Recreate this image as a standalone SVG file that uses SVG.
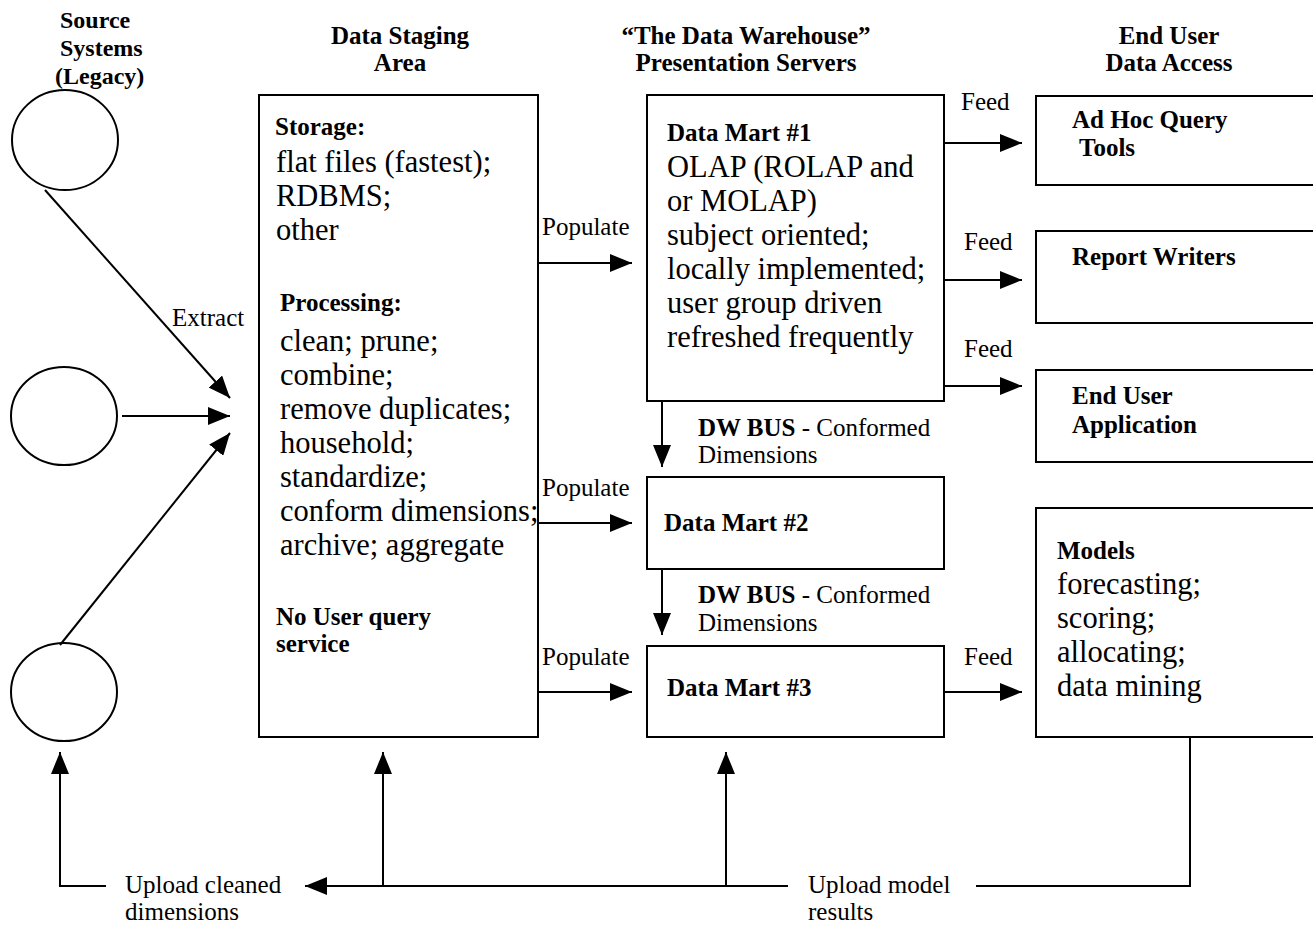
<svg xmlns="http://www.w3.org/2000/svg" width="1313" height="925" viewBox="0 0 1313 925">
<style>
text{font-family:"Liberation Serif","Times New Roman",serif;fill:#000}
.h{font-weight:bold;font-size:25px}
.hs{font-weight:bold;font-size:24px}
.b{font-weight:bold;font-size:25px}
.l{font-size:30.5px}
.s{font-size:25px}
.box{fill:#fff;stroke:#000;stroke-width:2}
.c{fill:#fff;stroke:#000;stroke-width:2}
.ln{fill:none;stroke:#000;stroke-width:2}
</style>
<defs>
<marker id="ah" markerWidth="22" markerHeight="18" refX="22" refY="9" orient="auto" markerUnits="userSpaceOnUse"><path d="M0,0 L22,9 L0,18 z" fill="#000"/></marker>
</defs>
<rect width="1313" height="925" fill="#fff"/>
<g id="headers">
<text class="hs" x="60" y="28">Source</text>
<text class="hs" x="60" y="56">Systems</text>
<text class="hs" x="55" y="84">(Legacy)</text>
<text class="h" x="400" y="44" text-anchor="middle">Data Staging</text>
<text class="h" x="400" y="71" text-anchor="middle">Area</text>
<text class="h" x="746" y="44" text-anchor="middle">“The Data Warehouse”</text>
<text class="h" x="746" y="71" text-anchor="middle">Presentation Servers</text>
<text class="h" x="1169" y="44" text-anchor="middle">End User</text>
<text class="h" x="1169" y="71" text-anchor="middle">Data Access</text>
</g>
<g id="src1"><ellipse class="c" cx="65" cy="140" rx="53" ry="50"/></g>
<g id="src2"><ellipse class="c" cx="64" cy="416" rx="53" ry="49"/></g>
<g id="src3"><ellipse class="c" cx="64" cy="692" rx="53" ry="49"/></g>
<g id="staging">
<rect class="box" x="259" y="95" width="279" height="642"/>
<text class="b" x="275" y="135">Storage:</text>
<text class="l" x="276" y="172">flat files (fastest);</text>
<text class="l" x="276" y="206">RDBMS;</text>
<text class="l" x="276" y="240">other</text>
<text class="b" x="280" y="311">Processing:</text>
<text class="l" x="280" y="351">clean; prune;</text>
<text class="l" x="280" y="385">combine;</text>
<text class="l" x="280" y="419">remove duplicates;</text>
<text class="l" x="280" y="453">household;</text>
<text class="l" x="280" y="487">standardize;</text>
<text class="l" x="280" y="521">conform dimensions;</text>
<text class="l" x="280" y="555">archive; aggregate</text>
<text class="b" x="276" y="625">No User query</text>
<text class="b" x="276" y="652">service</text>
</g>
<g id="dm1">
<rect class="box" x="647" y="95" width="297" height="306"/>
<text class="b" x="667" y="141">Data Mart #1</text>
<text class="l" x="667" y="177">OLAP (ROLAP and</text>
<text class="l" x="667" y="211">or MOLAP)</text>
<text class="l" x="667" y="245">subject oriented;</text>
<text class="l" x="667" y="279">locally implemented;</text>
<text class="l" x="667" y="313">user group driven</text>
<text class="l" x="667" y="347">refreshed frequently</text>
</g>
<g id="dm2">
<rect class="box" x="647" y="477" width="297" height="92"/>
<text class="b" x="664" y="531">Data Mart #2</text>
</g>
<g id="dm3">
<rect class="box" x="647" y="646" width="297" height="91"/>
<text class="b" x="667" y="696">Data Mart #3</text>
</g>
<g id="adhoc">
<rect class="box" x="1036" y="96" width="300" height="89"/>
<text class="b" x="1072" y="128">Ad Hoc Query</text>
<text class="b" x="1079" y="156">Tools</text>
</g>
<g id="report">
<rect class="box" x="1036" y="231" width="300" height="92"/>
<text class="b" x="1072" y="265">Report Writers</text>
</g>
<g id="enduserapp">
<rect class="box" x="1036" y="370" width="300" height="92"/>
<text class="b" x="1072" y="404">End User</text>
<text class="b" x="1072" y="433">Application</text>
</g>
<g id="models">
<rect class="box" x="1036" y="508" width="300" height="229"/>
<text class="b" x="1057" y="559">Models</text>
<text class="l" x="1057" y="594">forecasting;</text>
<text class="l" x="1057" y="628">scoring;</text>
<text class="l" x="1057" y="662">allocating;</text>
<text class="l" x="1057" y="696">data mining</text>
</g>
<g id="connectors">
<line class="ln" x1="45" y1="190" x2="230" y2="398" marker-end="url(#ah)"/>
<line class="ln" x1="122" y1="416" x2="230" y2="416" marker-end="url(#ah)"/>
<line class="ln" x1="60" y1="645" x2="230" y2="433" marker-end="url(#ah)"/>
<line class="ln" x1="538" y1="263" x2="632" y2="263" marker-end="url(#ah)"/>
<line class="ln" x1="538" y1="523" x2="632" y2="523" marker-end="url(#ah)"/>
<line class="ln" x1="538" y1="692" x2="632" y2="692" marker-end="url(#ah)"/>
<line class="ln" x1="944" y1="143" x2="1022" y2="143" marker-end="url(#ah)"/>
<line class="ln" x1="944" y1="280" x2="1022" y2="280" marker-end="url(#ah)"/>
<line class="ln" x1="944" y1="386" x2="1022" y2="386" marker-end="url(#ah)"/>
<line class="ln" x1="944" y1="692" x2="1022" y2="692" marker-end="url(#ah)"/>
<line class="ln" x1="662" y1="401" x2="662" y2="467" marker-end="url(#ah)"/>
<line class="ln" x1="662" y1="569" x2="662" y2="635" marker-end="url(#ah)"/>
<polyline class="ln" points="106,886 60,886 60,752" marker-end="url(#ah)"/>
<line class="ln" x1="788" y1="886" x2="305" y2="886" marker-end="url(#ah)"/>
<line class="ln" x1="383" y1="886" x2="383" y2="752" marker-end="url(#ah)"/>
<line class="ln" x1="726" y1="886" x2="726" y2="752" marker-end="url(#ah)"/>
<polyline class="ln" points="976,886 1190,886 1190,737"/>
<text class="s" x="172" y="326">Extract</text>
<text class="s" x="542" y="235">Populate</text>
<text class="s" x="542" y="496">Populate</text>
<text class="s" x="542" y="665">Populate</text>
<text class="s" x="961" y="110">Feed</text>
<text class="s" x="964" y="250">Feed</text>
<text class="s" x="964" y="357">Feed</text>
<text class="s" x="964" y="665">Feed</text>
<text class="s" x="698" y="436"><tspan font-weight="bold">DW BUS</tspan> - Conformed</text>
<text class="s" x="698" y="463">Dimensions</text>
<text class="s" x="698" y="603"><tspan font-weight="bold">DW BUS</tspan> - Conformed</text>
<text class="s" x="698" y="631">Dimensions</text>
<text class="s" x="125" y="893">Upload cleaned</text>
<text class="s" x="125" y="920">dimensions</text>
<text class="s" x="808" y="893">Upload model</text>
<text class="s" x="808" y="920">results</text>
</g>
</svg>
